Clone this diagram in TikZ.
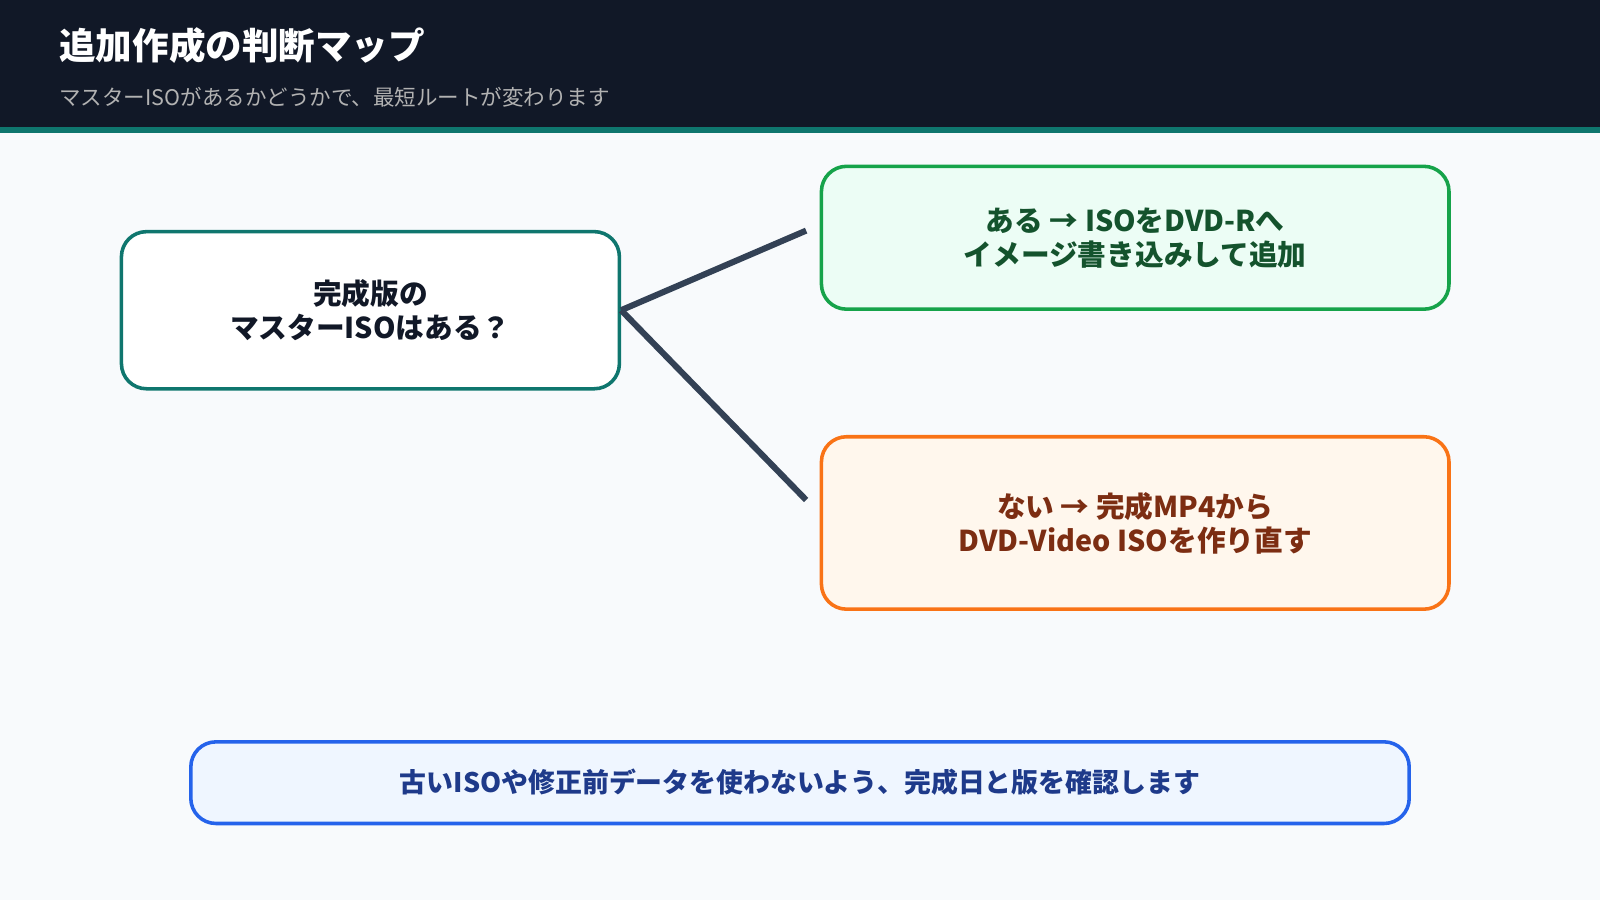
\documentclass[tikz,border=0pt]{standalone}
\usepackage{fontspec}
\setmainfont{Noto Sans CJK JP}
\definecolor{hdr}{HTML}{111827}
\definecolor{teal}{HTML}{0F766E}
\definecolor{bg}{HTML}{F8FAFC}
\definecolor{gline}{HTML}{16A34A}\definecolor{gfill}{HTML}{ECFDF5}\definecolor{gtext}{HTML}{14532D}
\definecolor{oline}{HTML}{F97316}\definecolor{ofill}{HTML}{FFF7ED}\definecolor{otext}{HTML}{7C2D12}
\definecolor{bline}{HTML}{2563EB}\definecolor{bfill}{HTML}{EFF6FF}\definecolor{btext}{HTML}{1E3A8A}
\definecolor{conn}{HTML}{334155}
\begin{document}
\begin{tikzpicture}[x=0.02cm,y=-0.02cm,
  box/.style={rounded corners=14, line width=3.5*0.567pt, align=center, font=\bfseries\fontsize{16}{19}\selectfont},
  con/.style={conn, line width=6*0.567pt}]
\useasboundingbox (0,0) rectangle (1568,882);
\fill[bg] (0,0) rectangle (1568,882);
\fill[hdr] (0,0) rectangle (1568,124);
\fill[teal] (0,124) rectangle (1568,130);
\node[anchor=west, text=white, font=\bfseries\fontsize{20.4}{24}\selectfont] (title) at (52,45) {追加作成の判断マップ};
\node[anchor=west, text=gray!60, font=\fontsize{12}{14}\selectfont] (sub) at (52,95) {マスターISOがあるかどうかで、最短ルートが変わります};
\node[box, draw=teal, fill=white, minimum width=488*0.02cm, minimum height=154*0.02cm, text=hdr] (q) at (363,304) {完成版の\\マスターISOはある？};
\node[box, draw=gline, fill=gfill, minimum width=615*0.02cm, minimum height=140*0.02cm, text=gtext] (yes) at (1112.5,233) {ある → ISOをDVD-Rへ\\イメージ書き込みして追加};
\node[box, draw=oline, fill=ofill, minimum width=615*0.02cm, minimum height=169*0.02cm, text=otext] (no) at (1112.5,512.5) {ない → 完成MP4から\\DVD-Video ISOを作り直す};
\node[box, draw=bline, fill=bfill, minimum width=1194*0.02cm, minimum height=80*0.02cm, text=btext, font=\bfseries\fontsize{15}{18}\selectfont] (note) at (784,767) {古いISOや修正前データを使わないよう、完成日と版を確認します};
\coordinate (e1) at (790,226);
\coordinate (e2) at (790,490);
\draw[con] (q.east) -- (e1);
\draw[con] (q.east) -- (e2);
\end{tikzpicture}
\end{document}
